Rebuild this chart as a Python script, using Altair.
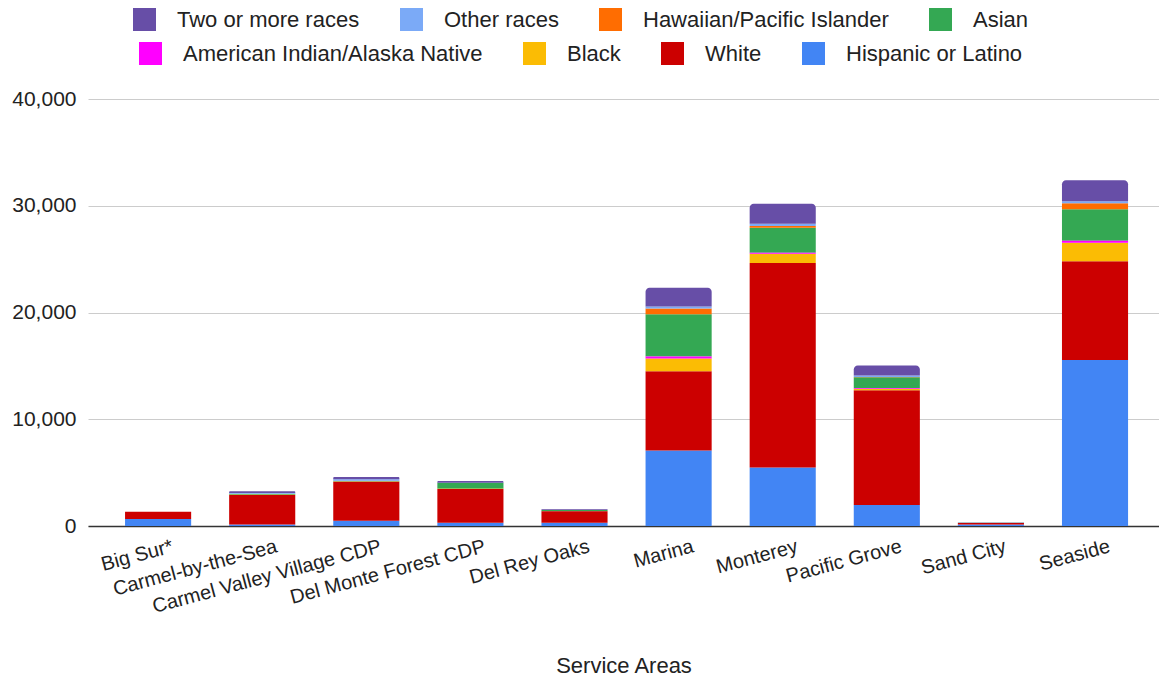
import altair as alt
import pandas as pd

# Service areas along the x axis
areas = [
    "Big Sur*",
    "Carmel-by-the-Sea",
    "Carmel Valley Village CDP",
    "Del Monte Forest CDP",
    "Del Rey Oaks",
    "Marina",
    "Monterey",
    "Pacific Grove",
    "Sand City",
    "Seaside",
]

# Population by race / ethnicity, stacked bottom to top
hispanic = [660, 150, 500, 310, 310, 7070, 5470, 1970, 150, 15560]
white = [680, 2750, 3650, 3160, 1070, 7420, 19160, 10740, 140, 9230]
black = [0, 20, 20, 20, 0, 1190, 880, 150, 0, 1750]
am_indian = [0, 0, 10, 0, 0, 190, 80, 70, 0, 190]
asian = [0, 100, 60, 560, 130, 3970, 2360, 1000, 15, 2940]
hawaiian = [0, 0, 0, 0, 0, 540, 150, 30, 0, 570]
other = [0, 60, 150, 0, 0, 180, 220, 150, 0, 180]
two_plus = [0, 180, 200, 160, 50, 1760, 1870, 920, 30, 1970]

groups = [
    "Hispanic or Latino",
    "White",
    "Black",
    "American Indian/Alaska Native",
    "Asian",
    "Hawaiian/Pacific Islander",
    "Other races",
    "Two or more races",
]
series = [hispanic, white, black, am_indian, asian, hawaiian, other, two_plus]
group_colors = {
    "Hispanic or Latino": "#4285f4",
    "White": "#cc0000",
    "Black": "#fbbc04",
    "American Indian/Alaska Native": "#ff00ff",
    "Asian": "#34a853",
    "Hawaiian/Pacific Islander": "#ff6d01",
    "Other races": "#7baaf7",
    "Two or more races": "#674ea7",
}

# The key is split over two rows, each its own legend
legend_row_1 = ["Two or more races", "Other races", "Hawaiian/Pacific Islander", "Asian"]
legend_row_2 = ["American Indian/Alaska Native", "Black", "White", "Hispanic or Latino"]

rows = []
for rank, (group, values) in enumerate(zip(groups, series)):
    for area, value in zip(areas, values):
        rows.append({"area": area, "group": group, "rank": rank, "value": value})
df = pd.DataFrame(rows)

FONT = "Liberation Sans"
TEXT = "#222222"


def row_color(domain, lx, ly):
    return alt.Color(
        "group:N",
        scale=alt.Scale(domain=domain, range=[group_colors[g] for g in domain]),
        legend=alt.Legend(
            title=None,
            orient="none",
            legendX=lx,
            legendY=ly,
            direction="horizontal",
            columns=4,
            symbolType="square",
            symbolSize=529,
            symbolStrokeWidth=0,
            symbolOpacity=1,
            labelFont=FONT,
            labelFontSize=22,
            labelColor=TEXT,
            labelOffset=21,
            labelLimit=400,
            columnPadding=40,
            padding=0,
        ),
    )


x = alt.X(
    "area:N",
    sort=areas,
    scale=alt.Scale(paddingInner=0.365, paddingOuter=0.3265, align=0.545),
    axis=alt.Axis(
        title="Service Areas",
        titleFont=FONT,
        titleFontSize=22,
        titleFontWeight="normal",
        titleColor=TEXT,
        titleY=139,
        titleBaseline="middle",
        labelFont=FONT,
        labelFontSize=20,
        labelColor=TEXT,
        labelAngle=345,
        labelAlign="right",
        labelBaseline="top",
        labelOffset=12,
        labelPadding=10,
        labelLimit=400,
        ticks=False,
        domainColor="#333333",
        domainWidth=1.5,
        grid=False,
    ),
)

y = alt.Y(
    "y1:Q",
    scale=alt.Scale(domain=[0, 40000]),
    axis=alt.Axis(
        title=None,
        values=[0, 10000, 20000, 30000, 40000],
        format=",.0f",
        labelFont=FONT,
        labelFontSize=21,
        labelColor=TEXT,
        labelPadding=12,
        ticks=False,
        domain=False,
        grid=True,
        gridColor="#cccccc",
        gridWidth=1,
    ),
)

base = alt.Chart(df).transform_stack(
    stack="value",
    groupby=["area"],
    as_=["y0", "y1"],
    sort=[alt.SortField("rank", order="ascending")],
).encode(x=x, y=y, y2="y0:Q")

color_1 = row_color(legend_row_1, 45, -91)
color_2 = row_color(legend_row_2, 51, -57)

upper_plain = base.transform_filter("datum.rank >= 4 && datum.rank < 7").mark_bar().encode(color=color_1)
upper_top = base.transform_filter("datum.rank == 7").mark_bar(
    cornerRadiusTopLeft=4, cornerRadiusTopRight=4
).encode(color=color_1)
lower = base.transform_filter("datum.rank < 4").mark_bar().encode(color=color_2)

chart = (
    alt.layer(alt.layer(upper_plain, upper_top), lower)
    .resolve_scale(color="independent")
    .properties(
        width=1071,
        height=427,
        autosize=alt.AutoSizeParams(type="none"),
        padding={"left": 88, "top": 99, "right": 0, "bottom": 151},
        background="white",
    )
    .configure_view(stroke=None)
)

chart.save("out.html", embed_options={"renderer": "svg", "actions": False})
